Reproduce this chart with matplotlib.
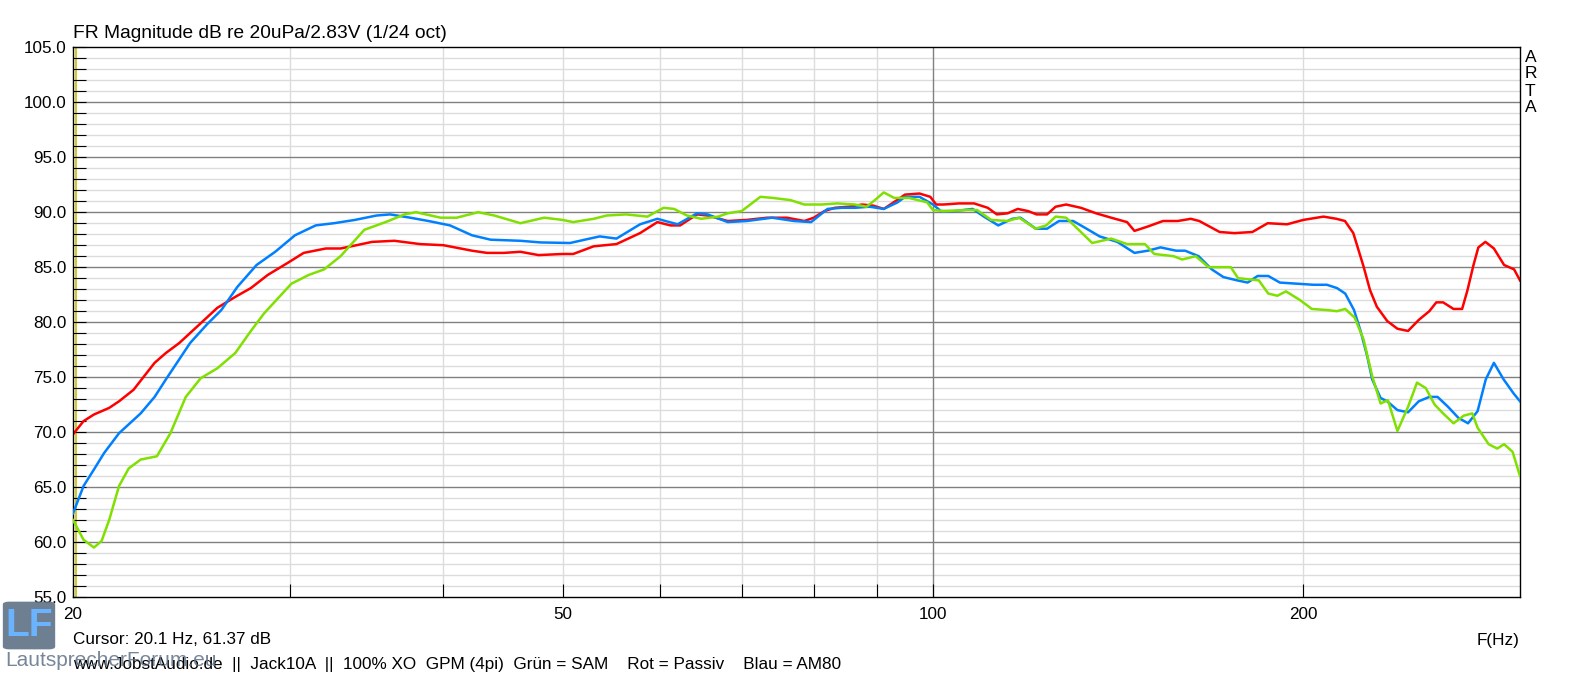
import matplotlib
matplotlib.use("Agg")
import matplotlib.pyplot as plt
from matplotlib.patches import FancyBboxPatch
import numpy as np

plt.rcParams['font.family'] = ['Liberation Sans', 'DejaVu Sans']

# ---------------- data ----------------
red_f = [20.0, 20.4, 20.8, 21.4, 21.8, 22.4, 23.3, 23.8, 24.4, 25.4, 26.2, 27.1, 27.9, 28.8, 29.9,
         30.8, 32.1, 33.0, 34.0, 35.0, 36.5, 38.3, 40.0, 42.2, 43.4, 44.8, 46.2, 47.8, 50.0, 51.0,
         53.0, 55.3, 57.8, 59.7, 61.2, 62.3, 64.3, 65.6, 68.1, 70.6, 73.3, 76.1, 78.6, 80.0, 81.6,
         83.2, 85.4, 87.6, 89.4, 91.2, 93.2, 94.9, 97.5, 99.5, 100.6, 102.0, 105.0, 108.0, 110.8,
         112.7, 115.0, 117.2, 119.5, 121.4, 123.8, 125.8, 128.3, 131.9, 135.7, 139.6, 143.8, 145.8,
         149.5, 153.8, 158.1, 162.0, 164.6, 171.0, 175.8, 181.8, 187.1, 194.0, 200.0, 207.7, 212.8,
         216.2, 219.6, 223.8, 226.6, 229.5, 234.0, 238.5, 243.3, 248.2, 253.2, 256.5, 259.8, 264.9,
         269.2, 271.9, 275.0, 277.5, 281.2, 285.7, 291.2, 296.7, 300.0]
red_db = [69.8, 71.0, 71.6, 72.2, 72.8, 73.85, 76.3, 77.2, 78.1, 79.9, 81.3, 82.3, 83.1, 84.3, 85.4,
          86.3, 86.7, 86.7, 87.0, 87.3, 87.4, 87.1, 87.0, 86.5, 86.3, 86.3, 86.4, 86.1, 86.2, 86.2,
          86.9, 87.1, 88.1, 89.1, 88.8, 88.8, 89.8, 89.7, 89.2, 89.3, 89.5, 89.5, 89.2, 89.5, 90.1,
          90.4, 90.5, 90.7, 90.6, 90.3, 91.0, 91.6, 91.7, 91.4, 90.7, 90.7, 90.8, 90.8, 90.4,
          89.8, 89.9, 90.3, 90.1, 89.8, 89.8, 90.5, 90.7, 90.4, 89.9, 89.5, 89.1, 88.3,
          88.7, 89.2, 89.2, 89.4, 89.2, 88.2, 88.1, 88.2, 89.0, 88.9, 89.3, 89.6, 89.4,
          89.2, 88.1, 85.1, 82.9, 81.4, 80.1, 79.4, 79.2, 80.2, 81.0, 81.8, 81.8, 81.2,
          81.2, 82.9, 85.2, 86.8, 87.3, 86.7, 85.2, 84.8, 83.8]

blue_f = [20.0, 20.4, 20.8, 21.2, 21.8, 22.7, 23.3, 23.8, 24.9, 25.7, 26.4, 27.2, 28.2, 29.2, 30.3,
          31.5, 32.6, 33.9, 35.3, 36.2, 37.6, 38.9, 40.5, 42.2, 43.7, 46.2, 48.0, 50.7, 52.6, 53.6,
          55.3, 57.8, 59.7, 62.0, 64.3, 65.6, 68.1, 70.6, 74.0, 77.1, 79.6, 82.1, 84.3, 86.4, 88.8,
          91.2, 93.6, 94.9, 97.5, 100.0, 101.5, 104.0, 107.7, 110.0, 113.0, 116.0, 117.8, 121.2,
          123.8, 126.6, 130.0, 133.3, 136.6, 141.2, 145.8, 149.5, 153.1, 157.6, 160.3, 164.4, 168.5,
          172.2, 176.7, 180.2, 183.6, 187.3, 191.4, 197.5, 203.8, 209.0, 213.0, 216.3, 219.9, 222.6,
          225.4, 227.5, 231.1, 234.0, 238.5, 243.3, 248.2, 253.2, 257.1, 262.2, 267.3, 272.2, 277.1,
          281.4, 285.7, 290.9, 296.5, 300.0]
blue_db = [62.6, 65.1, 66.6, 68.1, 69.9, 71.7, 73.2, 74.8, 78.1, 79.8, 81.1, 83.2, 85.2, 86.4, 87.9,
           88.8, 89.0, 89.3, 89.7, 89.8, 89.5, 89.2, 88.8, 87.9, 87.5, 87.4, 87.25, 87.2, 87.6, 87.8,
           87.6, 88.9, 89.4, 88.9, 89.9, 89.8, 89.1, 89.2, 89.5, 89.2, 89.1, 90.3, 90.4, 90.4, 90.5,
           90.3, 90.9, 91.4, 91.4, 90.7, 90.1, 90.1, 90.3, 89.6, 88.8, 89.4, 89.5, 88.5,
           88.5, 89.2, 89.2, 88.5, 87.8, 87.3, 86.3, 86.5, 86.8, 86.5, 86.5, 86.0, 84.8,
           84.1, 83.8, 83.6, 84.2, 84.2, 83.6, 83.5, 83.4, 83.4, 83.1, 82.6, 81.1, 79.2,
           76.9, 74.8, 73.1, 72.8, 72.0, 71.8, 72.8, 73.2, 73.2, 72.3, 71.3, 70.8, 71.9,
           74.8, 76.3, 74.8, 73.5, 72.8]

green_f = [20.0, 20.4, 20.8, 21.1, 21.4, 21.8, 22.2, 22.7, 23.4, 24.0, 24.7, 25.4, 26.2, 27.1, 27.9,
           28.6, 30.1, 31.1, 32.0, 33.0, 34.5, 35.9, 37.2, 38.0, 39.8, 41.0, 42.7, 44.0, 46.2, 48.3,
           50.0, 51.0, 53.0, 54.3, 56.3, 58.6, 60.4, 61.6, 63.1, 64.8, 66.9, 68.1, 69.9, 72.4, 74.1,
           76.6, 78.6, 81.2, 83.6, 86.4, 88.3, 89.7, 91.2, 93.0, 95.6, 98.9, 100.0, 102.0, 106.7,
           108.6, 111.5, 115.0, 117.5, 121.2, 123.6, 125.8, 128.3, 131.9, 134.7, 139.6, 143.8, 148.7,
           151.3, 156.9, 159.4, 163.5, 167.5, 174.6, 177.0, 184.0, 187.3, 190.5, 193.6, 198.8, 203.2,
           209.0, 213.0, 216.3, 220.2, 223.9, 227.5, 231.1, 234.3, 238.5, 243.3, 247.4, 251.5, 255.7,
           259.8, 264.9, 270.1, 274.4, 277.1, 282.9, 287.5, 291.2, 295.9, 300.0]
green_db = [62.0, 60.2, 59.5, 60.1, 62.0, 65.1, 66.7, 67.5, 67.8, 69.9, 73.2, 74.9, 75.8, 77.2, 79.2,
            80.8, 83.5, 84.3, 84.8, 86.0, 88.4, 89.1, 89.8, 90.0, 89.5, 89.5, 90.0, 89.7, 89.0, 89.5,
            89.3, 89.1, 89.4, 89.7, 89.8, 89.6, 90.4, 90.3, 89.7, 89.4, 89.6, 89.9, 90.1, 91.4, 91.3,
            91.1, 90.7, 90.7, 90.8, 90.7, 90.5, 91.1, 91.8, 91.3, 91.3, 90.9, 90.2, 90.1, 90.2,
            90.2, 89.3, 89.2, 89.5, 88.5, 88.8, 89.6, 89.5, 88.2, 87.2, 87.6, 87.1, 87.1,
            86.2, 86.0, 85.7, 86.0, 85.0, 85.0, 84.0, 83.8, 82.6, 82.4, 82.8, 82.0, 81.2,
            81.1, 81.0, 81.2, 80.4, 78.4, 75.1, 72.6, 72.9, 70.1, 72.3, 74.5, 74.0, 72.5,
            71.7, 70.8, 71.5, 71.7, 70.4, 68.9, 68.5, 68.9, 68.2, 66.0]

x_label_ticks = [20, 50, 100, 200]
x_minor_ticks = [30, 40, 60, 70, 80, 90]
y_major = [55, 60, 65, 70, 75, 80, 85, 90, 95, 100, 105]
cursor_f = 20.1

title = "FR Magnitude dB re 20uPa/2.83V (1/24 oct)"
cursor_text = "Cursor: 20.1 Hz, 61.37 dB"
info_text = "www.JobstAudio.de  ||  Jack10A  ||  100% XO  GPM (4pi)  Grün = SAM    Rot = Passiv    Blau = AM80"

# ---------------- figure ----------------
W, H = 1592, 677
DPI = 100
fig = plt.figure(figsize=(W / DPI, H / DPI), dpi=DPI)
fig.patch.set_facecolor('white')

def fx(px):
    return px / W

def fy(py):
    return 1 - py / H

L, R, T, B = 73, 1520, 47.3, 597
ax = fig.add_axes([fx(L), fy(B), (R - L) / W, (B - T) / H])
ax.set_xscale('log')
ax.set_xlim(20, 300)
ax.set_ylim(55, 105)

# grid
for v in range(56, 105):
    if v % 5:
        ax.axhline(v, color='#dcdcdc', lw=1.0, zorder=0.5)
for v in y_major[1:-1]:
    ax.axhline(v, color='#808080', lw=1.0, zorder=0.7)
for f in [30, 40, 50, 60, 70, 80, 90, 200]:
    ax.axvline(f, color='#dcdcdc', lw=1.0, zorder=0.6)
ax.axvline(100, color='#808080', lw=1.0, zorder=0.7)

ax.axvline(cursor_f, color='#c8c000', lw=1.2, zorder=1.5)

ax.plot(red_f, red_db, color='#ff0000', lw=1.8, zorder=2)
ax.plot(blue_f, blue_db, color='#0080ff', lw=1.8, zorder=3)
ax.plot(green_f, green_db, color='#80e000', lw=1.8, zorder=4)

# ticks
ax.xaxis.set_major_locator(matplotlib.ticker.FixedLocator(x_label_ticks + x_minor_ticks))
ax.xaxis.set_major_formatter(matplotlib.ticker.FixedFormatter(
    [str(v) for v in x_label_ticks] + [''] * len(x_minor_ticks)))
ax.xaxis.set_minor_locator(matplotlib.ticker.NullLocator())
ax.set_yticks(y_major)
ax.set_yticklabels([f"{v:.1f}" for v in y_major])
ax.set_yticks(list(range(56, 105)), minor=True)
ax.tick_params(axis='x', which='major', direction='in', length=9.6, width=0.8,
               labelsize=12.3, pad=7, top=False, color='black')
ax.tick_params(axis='y', which='both', direction='in', length=9.6, width=0.8,
               labelsize=12.3, pad=4.5, right=False, color='black')
for s in ax.spines.values():
    s.set_color('black')
    s.set_linewidth(1.0)

# texts
fig.text(fx(73), fy(33), title, fontsize=13.8, ha='left', va='center')
for i, ch in enumerate("ARTA"):
    fig.text(fx(1525), fy(57 + i * 17), ch, fontsize=12.5, ha='left', va='center')
fig.text(fx(1520), fy(640), "F(Hz)", fontsize=12.3, ha='right', va='center')
fig.text(fx(73), fy(640), cursor_text, fontsize=12.3, ha='left', va='center')
fig.text(fx(73), fy(664), info_text, fontsize=12.3, ha='left', va='center')

# watermark (logo box + site name, overlapping the footer as in the source)
box = FancyBboxPatch((fx(6), fy(648)), fx(46), (648 - 603) / H,
                     boxstyle="round,pad=0.002,rounding_size=0.004",
                     transform=fig.transFigure, facecolor='#5f7186', edgecolor='none',
                     alpha=0.9, zorder=10)
fig.patches.append(box)
fig.text(fx(29), fy(626), "LF", fontsize=28, fontweight='bold', color='#6ab4ff',
         ha='center', va='center', zorder=11)
fig.text(fx(5), fy(661), "LautsprecherForum.eu", fontsize=15, color='#5f7186',
         alpha=0.85, ha='left', va='center', zorder=11)

fig.savefig('out.png', dpi=DPI)
